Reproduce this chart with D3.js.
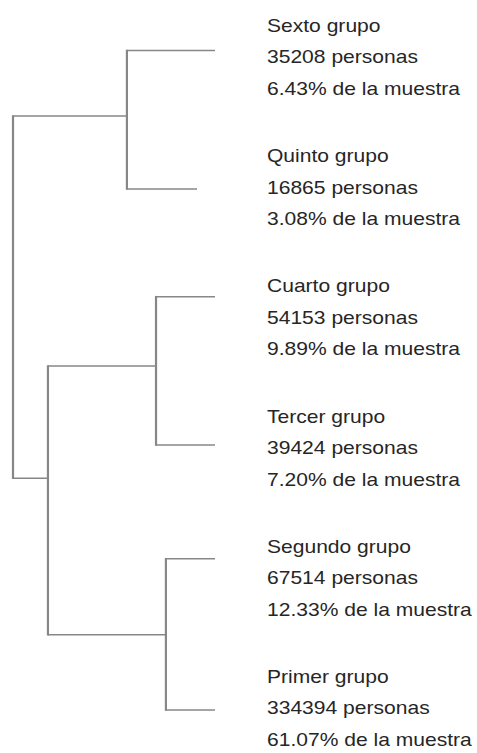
<!DOCTYPE html>
<html>
<head>
<meta charset="utf-8">
<script src="https://cdn.jsdelivr.net/npm/d3@7"></script>
<style>
  html, body { margin: 0; padding: 0; background: #fff; }
  svg { display: block; }
</style>
</head>
<body>
<svg id="chart" width="477" height="753"></svg>
<script>
// ---- data ----
const leafNames   = ["Sexto grupo", "Quinto grupo", "Cuarto grupo", "Tercer grupo", "Segundo grupo", "Primer grupo"];
const leafCounts  = [35208, 16865, 54153, 39424, 67514, 334394];
const leafPct     = ["6.43", "3.08", "9.89", "7.20", "12.33", "61.07"];
const leafPos     = [6.7, 25.1, 39.4, 59.1, 74.2, 94.3];   // position along the leaf axis (0-100)
const leafHeight  = [0, 8.9, 0, 0, 0, 0];                  // height where each leaf branch ends

const nodeIds      = ["A", "C", "D", "B", "root"];
const nodeHeight   = [43.6, 29.2, 24.3, 82.7, 100];
const nodePos      = [15.4, 48.6, 84.3, 63.5, 15.4];
const nodeChildren = [["L0", "L1"], ["L2", "L3"], ["L4", "L5"], ["C", "D"], ["A", "B"]];

// ---- build hierarchy ----
const byId = {};
leafNames.forEach((n, i) => {
  byId["L" + i] = { id: "L" + i, name: n, count: leafCounts[i], pct: leafPct[i],
                    h: leafHeight[i], pos: leafPos[i], idx: i };
});
nodeIds.forEach((id, i) => { byId[id] = { id, h: nodeHeight[i], pos: nodePos[i] }; });
nodeIds.forEach((id, i) => { byId[id].children = nodeChildren[i].map(c => byId[c]); });
const root = d3.hierarchy(byId["root"]);

// ---- scales ----
const x = d3.scaleLinear().domain([100, 0]).range([13, 215]);
const y = d3.scaleLinear().domain([0, 100]).range([0, 753]);
const labelY = d3.scalePoint().domain(leafNames).range([32, 683]);

const svg = d3.select("#chart");
const g = svg.append("g");
const lineColor = "#878787";

// vertical connectors
root.descendants().filter(d => d.children).forEach(d => {
  const ps = d.children.map(c => c.data.pos);
  g.append("line")
    .attr("x1", x(d.data.h)).attr("x2", x(d.data.h))
    .attr("y1", y(d3.min(ps)) - 0.75).attr("y2", y(d3.max(ps)) + 0.75)
    .attr("stroke", lineColor).attr("stroke-width", 2.2);
});
// horizontal branches
root.descendants().filter(d => d.parent).forEach(d => {
  g.append("line")
    .attr("x1", x(d.parent.data.h)).attr("x2", x(d.data.h))
    .attr("y1", y(d.data.pos)).attr("y2", y(d.data.pos))
    .attr("stroke", lineColor).attr("stroke-width", 1.5);
});

// labels
const leaves = root.leaves().sort((a, b) => a.data.idx - b.data.idx);
const fmt = d3.format("d");
leaves.forEach(d => {
  const lines = [d.data.name, fmt(d.data.count) + " personas", d.data.pct + "% de la muestra"];
  const t = svg.append("g")
    .attr("transform", `translate(267,${labelY(d.data.name)}) scale(1.17,1)`);
  lines.forEach((s, i) => {
    t.append("text")
      .attr("x", 0).attr("y", i * 31.5)
      .attr("font-family", "Liberation Sans, Arial, sans-serif")
      .attr("font-size", 18)
      .attr("fill", "#262626")
      .text(s);
  });
});
</script>
</body>
</html>
